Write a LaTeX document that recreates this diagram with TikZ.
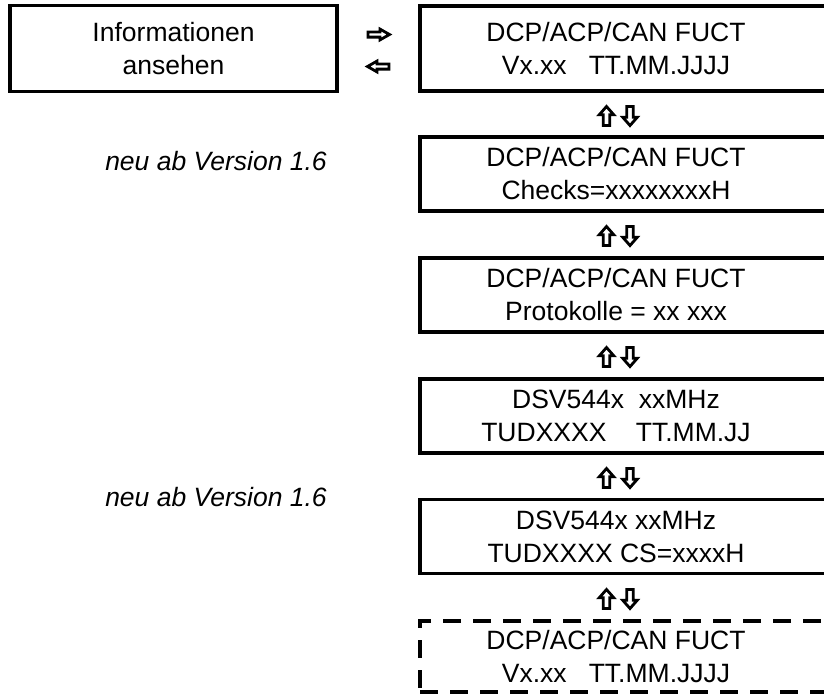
\documentclass[tikz,border=0pt]{standalone}
\usepackage{fontspec}
\setmainfont{Liberation Sans}

\tikzset{
  screen/.style={draw, line width=3.5pt, minimum width=420pt, minimum height=74pt},
  lcd/.style={align=center, inner sep=0pt, font=\fontsize{26.5}{33}\selectfont},
  remark/.style={inner sep=0pt, font=\fontsize{26.5}{33}\selectfont\itshape},
  vert arrow/.pic={
    \draw[line width=2.8pt, miter limit=10]
      (0,9.5) -- (-7.3,1.2) -- (-3.2,1.2) -- (-3.2,-9.5)
      -- (3.2,-9.5) -- (3.2,1.2) -- (7.3,1.2) -- cycle;},
  horz arrow/.pic={
    \draw[line width=2.8pt, miter limit=10]
      (11,0) -- (1.5,5.4) -- (1.5,2.6) -- (-10.5,2.6)
      -- (-10.5,-2.6) -- (1.5,-2.6) -- (1.5,-5.4) -- cycle;}
}

\begin{document}
\begin{tikzpicture}[x=1pt, y=1pt]
\useasboundingbox (0,0) rectangle (824,-694);

% menu entry on the left
\node[screen, lcd, minimum width=327pt, minimum height=86pt] (info) at (173.5,-48.5)
  {Informationen\\ansehen};

% enter / leave
\pic at (378.5,-34.5) {horz arrow};
\pic[rotate=180] at (378.5,-66.5) {horz arrow};

% display frames (cut off at the right edge)
\node[screen, minimum height=85pt] (b1) at (630,-48.5) {};
\node[screen] (b2) at (630,-174) {};
\node[screen] (b3) at (630,-295) {};
\node[screen] (b4) at (630,-416) {};
\node[screen] (b5) at (630,-536.5) {};
\node[screen, dash pattern=on 18pt off 12pt, line width=4pt, minimum height=71pt] (b6) at (630,-656.5) {};

% display texts
\node[lcd] (s1) at (616,-48.5) {DCP/ACP/CAN FUCT\\Vx.xx\ \ \ TT.MM.JJJJ};
\node[lcd] (s2) at (616,-174) {DCP/ACP/CAN FUCT\\Checks=xxxxxxxxH};
\node[lcd] (s3) at (616,-295) {DCP/ACP/CAN FUCT\\Protokolle = xx xxx};
\node[lcd] (s4) at (616,-416) {DSV544x\ \ xxMHz\\TUDXXXX\ \ \ \ TT.MM.JJ};
\node[lcd] (s5) at (616,-536.5) {DSV544x xxMHz\\TUDXXXX CS=xxxxH};
\node[lcd] (s6) at (616,-656.5) {DCP/ACP/CAN FUCT\\Vx.xx\ \ \ TT.MM.JJJJ};

% scrolling up/down
\foreach \y in {116,236,357,478,599} {
  \pic at (606.5,-\y) {vert arrow};
  \pic[rotate=180] at (630,-\y) {vert arrow};
}

% remarks
\node[remark] (new1) at (216,-161) {neu ab Version 1.6};
\node[remark] (new2) at (216,-497) {neu ab Version 1.6};
\end{tikzpicture}
\end{document}
